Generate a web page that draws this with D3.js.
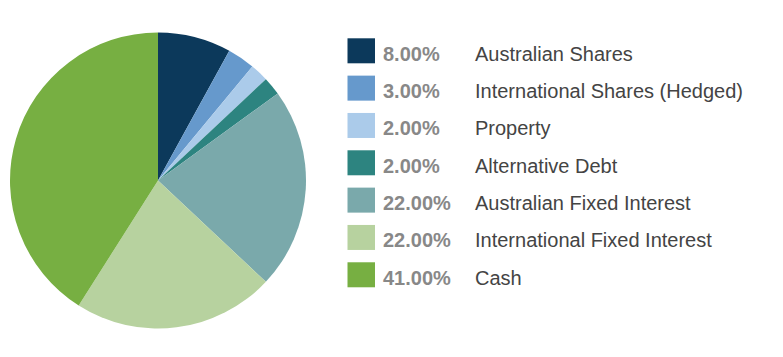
<!DOCTYPE html>
<html><head><meta charset="utf-8">
<script src="https://cdn.jsdelivr.net/npm/d3@7"></script>
<style>html,body{margin:0;padding:0;background:#fff;}svg{display:block;}</style>
</head><body>
<svg id="chart" width="783" height="357"></svg>
<script>
const categories = ["Australian Shares","International Shares (Hedged)","Property","Alternative Debt","Australian Fixed Interest","International Fixed Interest","Cash"];
const values = [8,3,2,2,22,22,41];
const colors = ["#0c395b","#6699cc","#abcbea","#2d8480","#7aa9ab","#b7d29f","#77af42"];

const svg = d3.select("#chart");
const cx = 158, cy = 180.5, r = 148;
const pie = d3.pie().sort(null).value(d => d)(values);
const arc = d3.arc().innerRadius(0).outerRadius(r);
svg.append("g").attr("transform", `translate(${cx},${cy})`)
  .selectAll("path").data(pie).join("path")
  .attr("d", arc).attr("fill", (d,i) => colors[i]);

const y = d3.scaleBand().domain(categories).range([31.8, 31.8 + 37.33*7]);
const fmt = d3.format(".2f");
const g = svg.append("g").attr("font-family", "Liberation Sans, Arial, Helvetica, sans-serif").attr("font-size", 20);
const row = g.selectAll("g").data(categories).join("g")
  .attr("transform", d => `translate(0,${y(d)})`);
row.append("rect").attr("x", 347.5).attr("y", 6.5).attr("width", 27.5).attr("height", 25)
  .attr("fill", (d,i) => colors[i]);
row.append("text").attr("x", 383).attr("y", 29).attr("fill", "#888888").attr("font-weight", "bold")
  .text((d,i) => fmt(values[i]) + "%");
row.append("text").attr("x", 475).attr("y", 29).attr("fill", "#444444")
  .text(d => d);
</script>
</body></html>
